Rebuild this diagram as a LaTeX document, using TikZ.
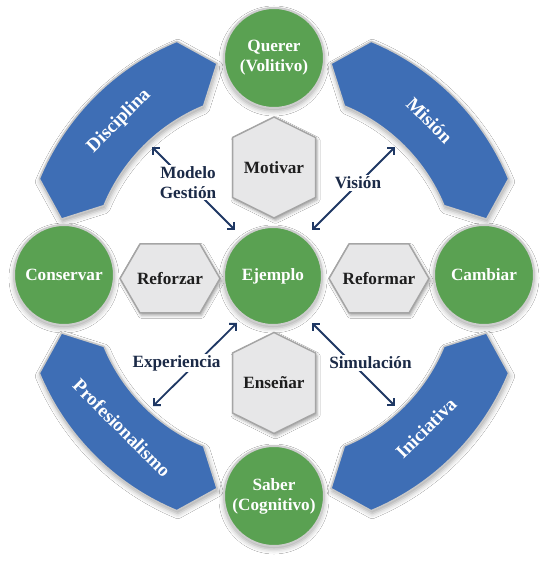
\documentclass[tikz,border=0pt]{standalone}
\usepackage{fontspec}
\setmainfont{Liberation Serif}
\usetikzlibrary{arrows.meta,shadows.blur}
\definecolor{grn}{RGB}{90,161,82}
\definecolor{circbd}{RGB}{205,205,205}
\definecolor{blu}{RGB}{62,110,181}
\definecolor{bandbd}{RGB}{200,200,200}
\definecolor{hexf}{RGB}{231,231,232}
\definecolor{hexbd}{RGB}{165,165,165}
\definecolor{hextxt}{RGB}{30,30,30}
\definecolor{lbltxt}{RGB}{27,42,71}
\definecolor{arrc}{RGB}{31,56,100}
\newcommand\bandshape[1]{%
  \path[band] (#1-22.5:254) arc[start angle=#1-22.5, end angle=#1+22.5, radius=254]
    -- (#1+30:220) -- (#1+22.5:184)
    arc[start angle=#1+22.5, end angle=#1-22.5, radius=184]
    -- (#1-30:220) -- cycle;}
\newcommand\vhexshape[1]{%
  \path[hexst, shift={(#1)}] (0,50.5) -- (41.5,30) -- (41.5,-30) -- (0,-50.5)
    -- (-41.5,-30) -- (-41.5,30) -- cycle;}
\newcommand\hhexshape[1]{%
  \path[hexst, shift={(#1)}] (-50,0) -- (-30,34.5) -- (30,34.5) -- (50,0)
    -- (30,-34.5) -- (-30,-34.5) -- cycle;}
\begin{document}
\begin{tikzpicture}[x=1bp,y=1bp,
  every node/.style={font=\fontsize{17.2bp}{20bp}\selectfont\bfseries},
  circ/.style={circle, fill=grn, draw=circbd, line width=2bp, minimum size=100bp,
    inner sep=0pt, text=white, align=center,
    blur shadow={shadow xshift=0bp, shadow yshift=-3bp, shadow blur radius=5bp, shadow opacity=35}},
  band/.style={fill=blu, draw=bandbd, line width=1.5bp,
    blur shadow={shadow xshift=1bp, shadow yshift=-3bp, shadow blur radius=5bp, shadow opacity=35}},
  bandtxt/.style={text=white, font=\fontsize{19bp}{22bp}\selectfont\bfseries},
  hexst/.style={fill=hexf, draw=hexbd, line width=1.5bp,
    blur shadow={shadow xshift=1.5bp, shadow yshift=-2.5bp, shadow blur radius=3bp, shadow opacity=35}},
  hexlbl/.style={text=hextxt},
  lbl/.style={text=lbltxt, fill=white, align=center, inner sep=1.5bp},
  arr/.style={draw=arrc, line width=1.8bp,
    {Straight Barb[length=5bp,width=10bp]}-{Straight Barb[length=5bp,width=10bp]}}]
\fill[white] (-274,-286) rectangle (276,276);
\useasboundingbox (-274,-286) rectangle (276,276);

% bands
\bandshape{135}
\bandshape{45}
\bandshape{225}
\bandshape{315}
\node[bandtxt, rotate=45] (dis) at (135:219) {Disciplina};
\node[bandtxt, rotate=-45] (mis) at (45:220) {Misión};
\node[bandtxt, rotate=-45] (pro) at (225:215) {Profesionalismo};
\node[bandtxt, rotate=45] (ini) at (315:215) {Iniciativa};

% hexagons
\vhexshape{0,108.5}
\vhexshape{0,-107}
\hhexshape{-104,-2.5}
\hhexshape{105,-2.5}
\node[hexlbl] (mot) at (0,108.5) {Motivar};
\node[hexlbl] (ens) at (0,-107) {Enseñar};
\node[hexlbl] (ref) at (-104,-2.5) {Reforzar};
\node[hexlbl] (rfm) at (105,-2.5) {Reformar};

% circles
\node[circ] (que) at (0,218) {Querer\\(Volitivo)};
\node[circ] (sab) at (0,-220) {Saber\\(Cognitivo)};
\node[circ] (con) at (-210,1) {Conservar};
\node[circ] (cam) at (210,1) {Cambiar};
\node[circ, minimum size=98bp] (eje) at (-1,0) {Ejemplo};

% arrows
\coordinate (mgA) at (-122,129);
\coordinate (mgB) at (-39,46);
\coordinate (viA) at (121,129);
\coordinate (viB) at (38,46);
\coordinate (exA) at (-37,-47);
\coordinate (exB) at (-121,-130);
\coordinate (siA) at (38,-47);
\coordinate (siB) at (121,-130);
\draw[arr] (mgA) -- (mgB);
\draw[arr] (viA) -- (viB);
\draw[arr] (exA) -- (exB);
\draw[arr] (siA) -- (siB);
\node[lbl] (mg) at (-86,93.5) {Modelo\\Gestión};
\node[lbl] (vi) at (84,93) {Visión};
\node[lbl] (ex) at (-97.5,-87) {Experiencia};
\node[lbl] (si) at (96.5,-87) {Simulación};
\end{tikzpicture}
\end{document}
